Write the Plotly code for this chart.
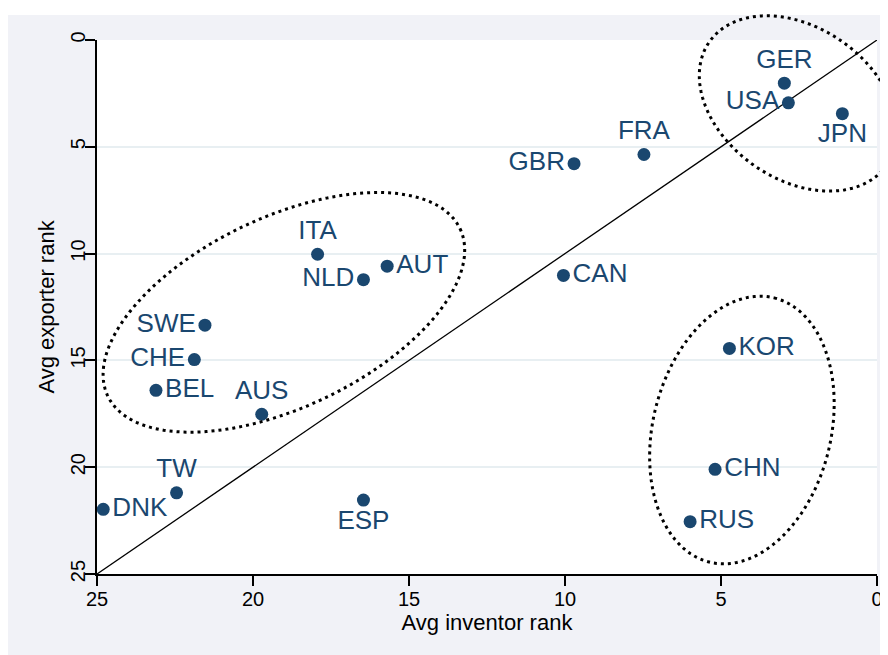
import numpy as np
import plotly.graph_objects as go

# ---- data ----
countries = ["GER", "USA", "JPN", "FRA", "GBR", "CAN", "ITA", "NLD", "AUT", "SWE",
             "CHE", "BEL", "AUS", "TW", "DNK", "ESP", "KOR", "CHN", "RUS"]
inventor_rank = [2.97, 2.84, 1.11, 7.47, 9.71, 10.05, 17.93, 16.46, 15.70, 21.54,
                 21.88, 23.11, 19.72, 22.45, 24.80, 16.46, 4.73, 5.19, 5.99]
exporter_rank = [2.02, 2.94, 3.45, 5.36, 5.79, 11.02, 10.03, 11.22, 10.59, 13.35,
                 14.96, 16.40, 17.52, 21.20, 21.97, 21.54, 14.44, 20.10, 22.55]
label_pos = ["top center", "middle left", "bottom center", "top center", "middle left",
             "middle right", "top center", "middle left", "middle right", "middle left",
             "middle left", "middle right", "top center", "top center", "middle right",
             "bottom center", "middle right", "middle right", "middle right"]
diag_x = [25, 0]
diag_y = [25, 0]
tick_vals = [0, 5, 10, 15, 20, 25]

# cluster ellipses: centre (data units), semi-axes (px), rotation (deg, screen)
ellipse_cx = [2.53, 19.01, 4.33]
ellipse_cy = [2.97, 12.75, 18.26]
ellipse_a = [108, 195, 136]
ellipse_b = [76, 95, 89]
ellipse_ang = [34.7, -25.4, -76.3]

W, H = 888, 655
ML, MR, MT, MB = 89, 19, 32, 89
PW, PH = W - ML - MR, H - MT - MB

NAVY = "#1a476f"
FONT = "Liberation Sans, Arial, sans-serif"
OUTER = "#f1f2f7"
GRID = "#e8eff2"

fig = go.Figure()
fig.add_trace(go.Scatter(x=diag_x, y=diag_y, mode="lines",
                         line=dict(color="black", width=1.3), hoverinfo="skip",
                         showlegend=False))
fig.add_trace(go.Scatter(x=inventor_rank, y=exporter_rank, mode="markers+text",
                         text=countries, textposition=label_pos,
                         textfont=dict(family=FONT, size=26, color=NAVY),
                         marker=dict(color=NAVY, size=13),
                         cliponaxis=False, showlegend=False))

shapes = []
# white strip at the very top of the canvas (7 px)
shapes.append(dict(type="rect", xref="paper", yref="paper", layer="below",
                   x0=-ML / PW - 0.1, x1=(W - ML) / PW + 0.1,
                   y0=(H - MB - 7) / PH, y1=(H - MB) / PH + 0.1,
                   fillcolor="white", line=dict(width=0)))

t = np.linspace(0, 2 * np.pi, 200)
for cx, cy, a, b, ang in zip(ellipse_cx, ellipse_cy, ellipse_a, ellipse_b, ellipse_ang):
    th = np.deg2rad(ang)
    dx = a * np.cos(t) * np.cos(th) - b * np.sin(t) * np.sin(th)
    dy = a * np.cos(t) * np.sin(th) + b * np.sin(t) * np.cos(th)
    px0 = (25 - cx) / 25
    py0 = (25 - cy) / 25
    xs = px0 + dx / PW
    ys = py0 - dy / PH
    path = "M " + " L ".join(f"{x:.5f},{y:.5f}" for x, y in zip(xs, ys)) + " Z"
    shapes.append(dict(type="path", xref="paper", yref="paper", path=path, layer="above",
                       line=dict(color="black", width=3, dash="3px,4px")))

fig.update_layout(
    width=W, height=H,
    margin=dict(l=ML, r=MR, t=MT, b=MB, autoexpand=False),
    paper_bgcolor=OUTER, plot_bgcolor="white",
    font=dict(family=FONT, color="black"),
    shapes=shapes,
    xaxis=dict(range=[25, 0], tickvals=tick_vals, showgrid=False, zeroline=False,
               showline=True, linecolor="black", linewidth=1.5,
               ticks="outside", ticklen=10, tickwidth=1.5, tickcolor="black",
               ticklabelstandoff=-4,
               tickfont=dict(size=20, family=FONT, color="black"),
               title=dict(text="Avg inventor rank", font=dict(size=22, family=FONT, color="black"),
                          standoff=2),
               automargin=False),
    yaxis=dict(range=[25, 0], tickvals=tick_vals, showgrid=True, gridcolor=GRID, gridwidth=1.5,
               zeroline=False, showline=True, linecolor="black", linewidth=1.5,
               ticks="outside", ticklen=10, tickwidth=1.5, tickcolor="black", tickangle=-90,
               ticklabelstandoff=-8,
               tickfont=dict(size=20, family=FONT, color="black"),
               title=dict(text="Avg exporter rank", font=dict(size=22, family=FONT, color="black"),
                          standoff=7),
               automargin=False),
)

fig.write_html("out.html")
